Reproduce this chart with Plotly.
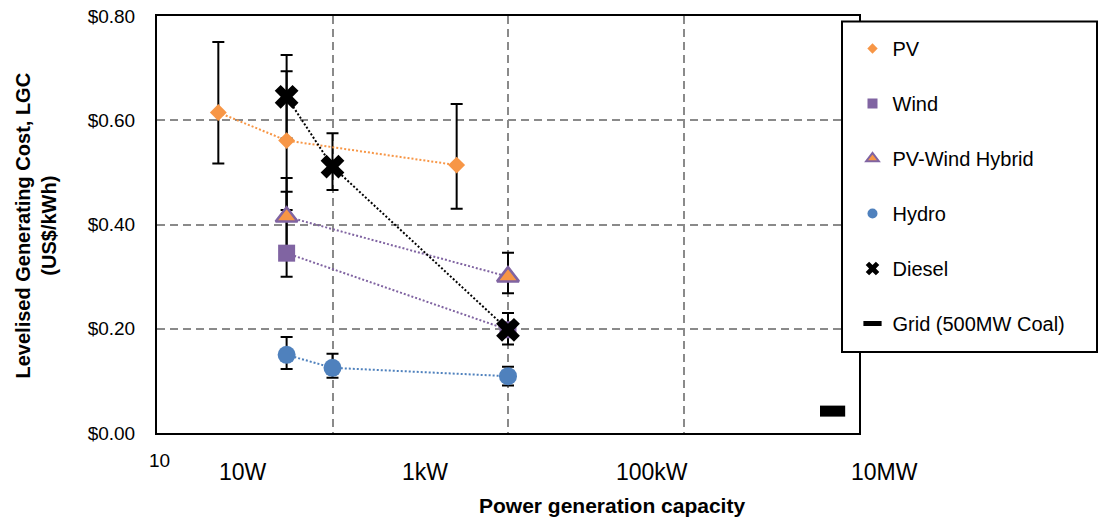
import plotly.graph_objects as go

# ---------------- data ----------------
pv_x = [5, 30, 2600]
pv_y = [0.615, 0.561, 0.514]
pv_err_plus = [0.135, 0.133, 0.117]
pv_err_minus = [0.098, 0.133, 0.084]

wind_x = [30, 10000]
wind_y = [0.345, 0.198]
wind_err_plus = [0.118, 0.0]
wind_err_minus = [0.045, 0.0]

hybrid_x = [30, 10000]
hybrid_y = [0.415, 0.300]
hybrid_err_plus = [0.074, 0.046]
hybrid_err_minus = [0.074, 0.032]

hydro_x = [30, 100, 10000]
hydro_y = [0.150, 0.125, 0.109]
hydro_err_plus = [0.034, 0.027, 0.018]
hydro_err_minus = [0.027, 0.019, 0.018]

diesel_x = [30, 100, 10000]
diesel_y = [0.645, 0.511, 0.198]
diesel_err_plus = [0.080, 0.064, 0.032]
diesel_err_minus = [0.080, 0.045, 0.028]

grid_x = [5e7]
grid_y = [0.042]

series_names = ["PV", "Wind", "PV-Wind Hybrid", "Hydro", "Diesel", "Grid (500MW Coal)"]
x_tick_labels = ["10W", "1kW", "100kW", "10MW"]
y_ticks = [0.0, 0.2, 0.4, 0.6, 0.8]

# ---------------- styles ----------------
FONT = "Liberation Sans, Arial, sans-serif"
ORANGE = "#F79646"
PURPLE = "#8064A2"
BLUE = "#4F81BD"
BLACK = "#000000"
GRIDC = "#8a8a8a"

fig = go.Figure()

# error bars (drawn first, beneath everything)
err_sets = [
    (pv_x, pv_y, pv_err_plus, pv_err_minus),
    (wind_x, wind_y, wind_err_plus, wind_err_minus),
    (hybrid_x, hybrid_y, hybrid_err_plus, hybrid_err_minus),
    (hydro_x, hydro_y, hydro_err_plus, hydro_err_minus),
    (diesel_x, diesel_y, diesel_err_plus, diesel_err_minus),
]
for xs, ys, ep, em in err_sets:
    fig.add_trace(go.Scatter(
        x=xs, y=ys, mode="markers", marker=dict(size=1, opacity=0),
        error_y=dict(type="data", symmetric=False, array=ep, arrayminus=em,
                     color=BLACK, thickness=2, width=6),
        showlegend=False, hoverinfo="skip"))

dot = "2px,2px"
# data series
fig.add_trace(go.Scatter(
    x=pv_x, y=pv_y, mode="lines+markers", name=series_names[0], showlegend=False,
    line=dict(color=ORANGE, width=2, dash=dot),
    marker=dict(symbol="diamond", size=13, color=ORANGE)))
fig.add_trace(go.Scatter(
    x=wind_x, y=wind_y, mode="lines+markers", name=series_names[1], showlegend=False,
    line=dict(color=PURPLE, width=2, dash=dot),
    marker=dict(symbol="square", size=17, color=PURPLE)))
fig.add_trace(go.Scatter(
    x=hybrid_x, y=hybrid_y, mode="lines+markers", name=series_names[2], showlegend=False,
    line=dict(color=PURPLE, width=2, dash=dot),
    marker=dict(symbol="triangle-up", size=19, color=ORANGE,
                line=dict(color=PURPLE, width=2.5))))
fig.add_trace(go.Scatter(
    x=hydro_x, y=hydro_y, mode="lines+markers", name=series_names[3], showlegend=False,
    line=dict(color=BLUE, width=2, dash=dot),
    marker=dict(symbol="circle", size=18, color=BLUE)))
fig.add_trace(go.Scatter(
    x=diesel_x, y=diesel_y, mode="lines+markers", name=series_names[4], showlegend=False,
    line=dict(color=BLACK, width=2, dash=dot),
    marker=dict(symbol="x", size=21, color=BLACK)))
fig.add_trace(go.Scatter(
    x=grid_x, y=grid_y, mode="markers", name=series_names[5], showlegend=False,
    marker=dict(symbol="line-ew", size=18, color=BLACK,
                line=dict(color=BLACK, width=11))))

# legend-only entries
legend_markers = [
    dict(symbol="diamond", size=8, color=ORANGE),
    dict(symbol="square", size=10, color=PURPLE),
    dict(symbol="triangle-up", size=11, color=ORANGE, line=dict(color=PURPLE, width=2)),
    dict(symbol="circle", size=10, color=BLUE),
    dict(symbol="x", size=12, color=BLACK),
    dict(symbol="line-ew", size=13, color=BLACK, line=dict(color=BLACK, width=5)),
]
for i, (nm, mk) in enumerate(zip(series_names, legend_markers)):
    fig.add_trace(go.Scatter(x=[None], y=[None], mode="markers", name=nm,
                             marker=mk, legendgroup=f"g{i}", showlegend=True))

# ---------------- layout ----------------
L, R, T, B = 157, 859, 16, 433
W, H = 1099, 519
pw, ph = R - L, B - T


def px_x(p):
    return (p - L) / pw


def px_y(p):
    return (B - p) / ph


annotations = []
# "10" stray label
annotations.append(dict(text="10", x=px_x(159), y=px_y(460), xref="paper", yref="paper",
                        showarrow=False, font=dict(family=FONT, size=19, color=BLACK),
                        xanchor="center", yanchor="middle"))
label_px = [242.5, 425, 652, 884]
for lbl, p in zip(x_tick_labels, label_px):
    annotations.append(dict(text=lbl, x=px_x(p), y=px_y(471.5), xref="paper", yref="paper",
                            showarrow=False, font=dict(family=FONT, size=23, color=BLACK),
                            xanchor="center", yanchor="middle"))
annotations.append(dict(text="<b>Power generation capacity</b>", x=px_x(611.5), y=px_y(505),
                        xref="paper", yref="paper", showarrow=False,
                        font=dict(family=FONT, size=21, color=BLACK),
                        xanchor="center", yanchor="middle"))
annotations.append(dict(text="<b>Levelised Generating Cost, LGC<br>(US$/kWh)</b>",
                        x=px_x(35.5), y=px_y(226), xref="paper", yref="paper",
                        showarrow=False, textangle=-90,
                        font=dict(family=FONT, size=20, color=BLACK),
                        xanchor="center", yanchor="middle"))

fig.update_layout(
    width=W, height=H, autosize=False,
    margin=dict(l=L, r=W - R, t=T, b=H - B, pad=0, autoexpand=False),
    paper_bgcolor="white", plot_bgcolor="white",
    font=dict(family=FONT, color=BLACK),
    xaxis=dict(type="log", range=[0, 8], tickvals=[100, 1e4, 1e6], showticklabels=False,
               ticks="", showgrid=True, gridcolor=GRIDC, gridwidth=2, griddash="8px,5px",
               showline=True, linecolor=BLACK, linewidth=2, mirror=True, zeroline=False,
               automargin=False),
    yaxis=dict(range=[0, 0.8], tickvals=y_ticks, tickformat="$.2f", ticks="",
               tickfont=dict(family=FONT, size=19, color=BLACK), ticklabelstandoff=16,
               showgrid=True, gridcolor=GRIDC, gridwidth=2, griddash="8px,5px",
               showline=True, linecolor=BLACK, linewidth=2, mirror=True, zeroline=False,
               automargin=False),
    showlegend=True,
    legend=dict(x=px_x(852.5), y=px_y(29), xanchor="left", yanchor="top",
                bgcolor="rgba(0,0,0,0)", borderwidth=0,
                font=dict(family=FONT, size=20, color=BLACK),
                traceorder="grouped", tracegroupgap=26, itemsizing="trace"),
    shapes=[dict(type="rect", xref="paper", yref="paper",
                 x0=px_x(842), x1=px_x(1097), y0=px_y(352), y1=px_y(21.5),
                 line=dict(color=BLACK, width=2), fillcolor="white", layer="above")],
    annotations=annotations,
)

fig.write_html("out.html")
